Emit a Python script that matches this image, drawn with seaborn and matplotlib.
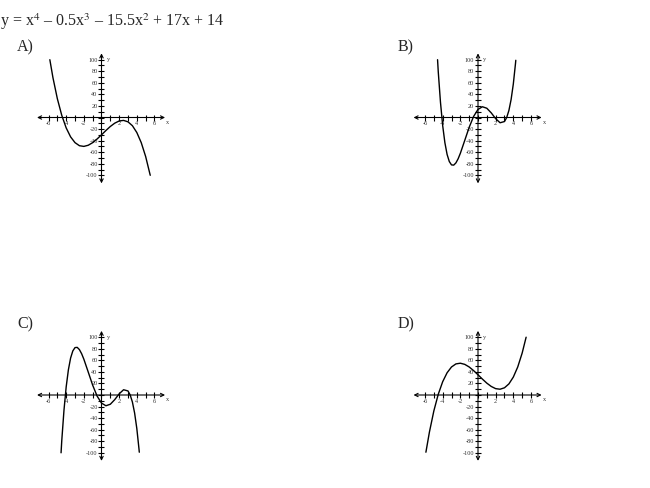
import matplotlib
matplotlib.use("Agg")
import matplotlib.pyplot as plt
from matplotlib.ticker import FixedLocator
import seaborn as sns
import pandas as pd
import numpy as np

# values
a_x = [-5.85, -5.5, -5.0, -4.5, -4.0, -3.5, -3.0, -2.5, -2.0, -1.5, -1.0, -0.5, 0.0,
       0.5, 1.0, 1.5, 2.0, 2.5, 3.0, 3.5, 4.0, 4.5, 5.0, 5.52]
a_y = [100, 69, 32.5, 3.7, -18, -33.5, -43.5, -48.8, -50, -48, -43.5, -37.2, -30,
       -22.5, -15.5, -9.8, -6, -5, -7.5, -14.2, -26, -43.5, -67.5, -100]

b_x = [-4.58, -4.5, -4.25, -4.0, -3.75, -3.5, -3.25, -3.0, -2.75, -2.5, -2.25, -2.0,
       -1.5, -1.0, -0.5, 0.0, 0.5, 1.0, 1.5, 2.0, 2.5, 3.0, 3.25, 3.5, 3.75, 4.0, 4.25, 4.28]
b_y = [100, 79, 26.4, -14, -43.6, -63.9, -76.2, -82, -82.4, -78.5, -71.4, -62,
       -39.6, -17, 1.8, 14, 18.6, 16, 8, -2, -9.1, -7, 0, 12.2, 31.2, 58, 94, 99]

c_x = [-4.58, -4.5, -4.25, -4.0, -3.75, -3.5, -3.25, -3.0, -2.75, -2.5, -2.25, -2.0,
       -1.5, -1.0, -0.5, 0.0, 0.5, 1.0, 1.5, 2.0, 2.5, 3.0, 3.25, 3.5, 3.75, 4.0, 4.25, 4.28]
c_y = [-100, -79, -26.4, 14, 43.6, 63.9, 76.2, 82, 82.4, 78.5, 71.4, 62,
       39.6, 17, -1.8, -14, -18.6, -16, -8, 2, 9.1, 7, 0, -12.2, -31.2, -58, -94, -99]

d_x = [-5.9, -5.5, -5.0, -4.5, -4.0, -3.5, -3.0, -2.5, -2.0, -1.5, -1.0, -0.5, 0.0,
       0.5, 1.0, 1.5, 2.0, 2.5, 3.0, 3.5, 4.0, 4.5, 5.0, 5.45]
d_y = [-99, -64, -27.5, 1.3, 23, 38.5, 48.5, 53.8, 55, 53, 48.5, 42.2, 35,
       27.5, 20.5, 14.8, 11, 10, 12.5, 19.2, 31, 48.5, 72.5, 100]

panels = [("A)", a_x, a_y), ("B)", b_x, b_y), ("C)", c_x, c_y), ("D)", d_x, d_y)]
x_labels = [-6, -4, -2, 2, 4, 6]
y_labels = [-100, -80, -60, -40, -20, 20, 40, 60, 80, 100]
x_minor = list(range(-6, 7))
y_minor = list(range(-100, 101, 10))
title = r"y = x$^{4}$ – 0.5x$^{3}$ – 15.5x$^{2}$ + 17x + 14"

sns.set_style("white")
plt.rcParams["font.family"] = ["Liberation Serif", "DejaVu Serif"]
plt.rcParams["mathtext.fontset"] = "stix"

W, H = 650, 488
fig = plt.figure(figsize=(W / 100, H / 100), dpi=100)

# panel origins in pixels, and pixel scale per data unit
origins = [(101.5, 117.5), (478, 117.5), (101.5, 395), (478, 395)]
label_pos = [(17, 47), (398, 47), (17, 324), (398, 324)]
sx, sy = 8.83, 0.578
xl, xr = -7.6, 7.6
yb, yt = -122, 118

fig.text(0, 1 - 22 / H, title, fontsize=11.5, va="center", ha="left")

for (name, xs, ys), (ox, oy), (lx, ly) in zip(panels, origins, label_pos):
    left = ox + xl * sx
    top = oy - yt * sy
    ax = fig.add_axes([left / W, 1 - (top + (yt - yb) * sy) / H,
                       (xr - xl) * sx / W, (yt - yb) * sy / H])
    ax.set_xlim(xl, xr)
    ax.set_ylim(yb, yt)
    ax.patch.set_alpha(0)

    df = pd.DataFrame({"x": xs, "y": ys})
    sns.lineplot(data=df, x="x", y="y", sort=False, color="black", lw=1.0, ax=ax)

    for s in ["top", "right"]:
        ax.spines[s].set_visible(False)
    for s in ["left", "bottom"]:
        ax.spines[s].set_position("zero")
        ax.spines[s].set_color("none")

    # axes drawn as double-headed arrows
    ax.annotate("", xy=(7.2, 0), xytext=(-7.3, 0),
                arrowprops=dict(arrowstyle="<->", lw=0.8, color="black",
                                shrinkA=0, shrinkB=0, mutation_scale=6))
    ax.annotate("", xy=(0, 111), xytext=(0, -114),
                arrowprops=dict(arrowstyle="<->", lw=0.8, color="black",
                                shrinkA=0, shrinkB=0, mutation_scale=6))

    ax.xaxis.set_major_locator(FixedLocator(x_labels))
    ax.xaxis.set_minor_locator(FixedLocator(x_minor))
    ax.yaxis.set_major_locator(FixedLocator(y_labels))
    ax.yaxis.set_minor_locator(FixedLocator(y_minor))
    ax.set_xticklabels([str(v) for v in x_labels])
    ax.set_yticklabels([str(v) for v in y_labels])
    ax.tick_params(which="both", bottom=True, left=True, top=False, right=False,
                   direction="inout", length=4.5, width=0.8,
                   color="black", labelsize=4.5, pad=0.5, labelcolor="#333333")
    ax.set_xlabel("")
    ax.set_ylabel("")

    ax.text(7.35, -4, "x", fontsize=4.5, ha="left", va="top", color="#333333")
    ax.text(0.6, 100, "y", fontsize=4.5, ha="left", va="center", color="#333333")

    fig.text(lx / W, 1 - ly / H, name, fontsize=11.5, ha="left", va="center")

fig.savefig("out.png", dpi=100)
